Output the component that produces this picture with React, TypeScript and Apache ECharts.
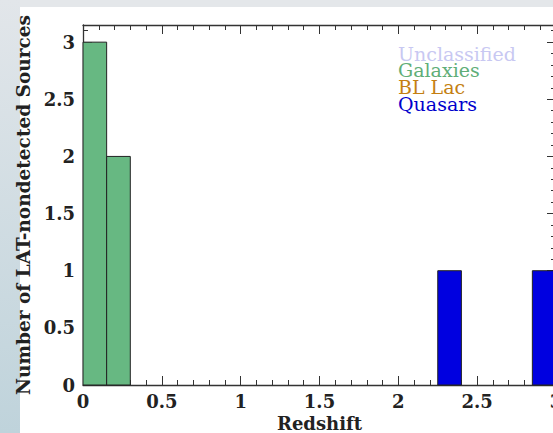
import React, { useEffect, useRef } from "react";
import * as echarts from "echarts";

const binWidth = 0.15;
const galaxyBinStarts = [0, 0.15];
const galaxyCounts = [3, 2];
const quasarBinStarts = [2.25, 2.85];
const quasarCounts = [1, 1];
const legendNames = ["Unclassified", "Galaxies", "BL Lac", "Quasars"];
const legendColors = ["#c8c8f2", "#5fae78", "#c47f12", "#0000cc"];

const FONT = "DejaVu Serif";

function histSeries(name: string, starts: number[], counts: number[], fill: string) {
  return {
    type: "custom",
    name,
    xAxisIndex: 0,
    yAxisIndex: 0,
    data: starts.map((s, i) => [s, s + binWidth, counts[i]]),
    encode: { x: [0, 1], y: 2 },
    renderItem: (params: any, api: any) => {
      const p0 = api.coord([api.value(0), api.value(2)]);
      const p1 = api.coord([api.value(1), 0]);
      return {
        type: "rect",
        shape: { x: p0[0], y: p0[1], width: p1[0] - p0[0], height: p1[1] - p0[1] },
        style: { fill, stroke: "#222", lineWidth: 1 },
      };
    },
  };
}

export default function App() {
  const ref = useRef<HTMLDivElement>(null);
  useEffect(() => {
    if (!ref.current) return;
    const chart = echarts.init(ref.current, undefined, { renderer: "svg" });
    const tickCommon = {
      axisLine: { show: true, onZero: false, lineStyle: { color: "#333", width: 1.3 } },
      axisTick: { show: true, inside: true, length: 9, lineStyle: { color: "#333", width: 1 } },
      minorTick: { show: true, splitNumber: 5, length: 5, lineStyle: { color: "#333", width: 1 } },
      splitLine: { show: false },
      minorSplitLine: { show: false },
    };
    chart.setOption({
      animation: false,
      backgroundColor: "#ffffff",
      grid: { left: 83, top: 25, right: -3, bottom: 48, outerBoundsMode: "none", containLabel: false },
      graphic: [
        {
          type: "rect",
          z: -10,
          silent: true,
          shape: { x: 0, y: 0, width: 20, height: 433 },
          style: {
            fill: new echarts.graphic.LinearGradient(0, 0, 0, 1, [
              { offset: 0, color: "#e2e6ea" },
              { offset: 1, color: "#bfd3db" },
            ]),
          },
        },
        {
          type: "rect",
          z: -10,
          silent: true,
          shape: { x: 20, y: 0, width: 533, height: 7 },
          style: { fill: "#e4e7ea" },
        },
        ...legendNames.map((n, i) => ({
          type: "text",
          left: 398,
          top: 44 + i * 16.7,
          style: {
            text: n,
            fill: legendColors[i],
            font: `19px "DejaVu Serif"`,
            lineHeight: 15,
          },
        })),
      ],
      xAxis: [
        {
          type: "value",
          min: 0,
          max: 3,
          interval: 0.5,
          name: "Redshift",
          nameLocation: "middle",
          nameGap: 27,
          nameTextStyle: { fontFamily: FONT, fontWeight: "bold", fontSize: 18, color: "#222" },
          axisLabel: { fontFamily: FONT, fontWeight: "bold", fontSize: 18, color: "#222", margin: 7 },
          ...tickCommon,
        },
        {
          type: "value",
          position: "top",
          min: 0,
          max: 3,
          interval: 0.5,
          axisLabel: { show: false },
          ...tickCommon,
        },
      ],
      yAxis: [
        {
          type: "value",
          min: 0,
          max: 3.15,
          interval: 0.5,
          name: "Number of LAT-nondetected Sources",
          nameLocation: "middle",
          nameGap: 38,
          nameTextStyle: { fontFamily: FONT, fontWeight: "bold", fontSize: 18.5, color: "#222" },
          axisLabel: {
            fontFamily: FONT,
            fontWeight: "bold",
            fontSize: 18,
            color: "#222",
            margin: 8,
            showMaxLabel: false,
          },
          ...tickCommon,
        },
        {
          type: "value",
          position: "right",
          min: 0,
          max: 3.15,
          interval: 0.5,
          axisLabel: { show: false },
          ...tickCommon,
        },
      ],
      series: [
        histSeries("Galaxies", galaxyBinStarts, galaxyCounts, "#67b882"),
        histSeries("Quasars", quasarBinStarts, quasarCounts, "#0000e0"),
      ],
    });
    return () => chart.dispose();
  }, []);
  return <div ref={ref} style={{ position: "fixed", left: 0, top: 0, width: 553, height: 433, overflow: "hidden" }} />;
}
